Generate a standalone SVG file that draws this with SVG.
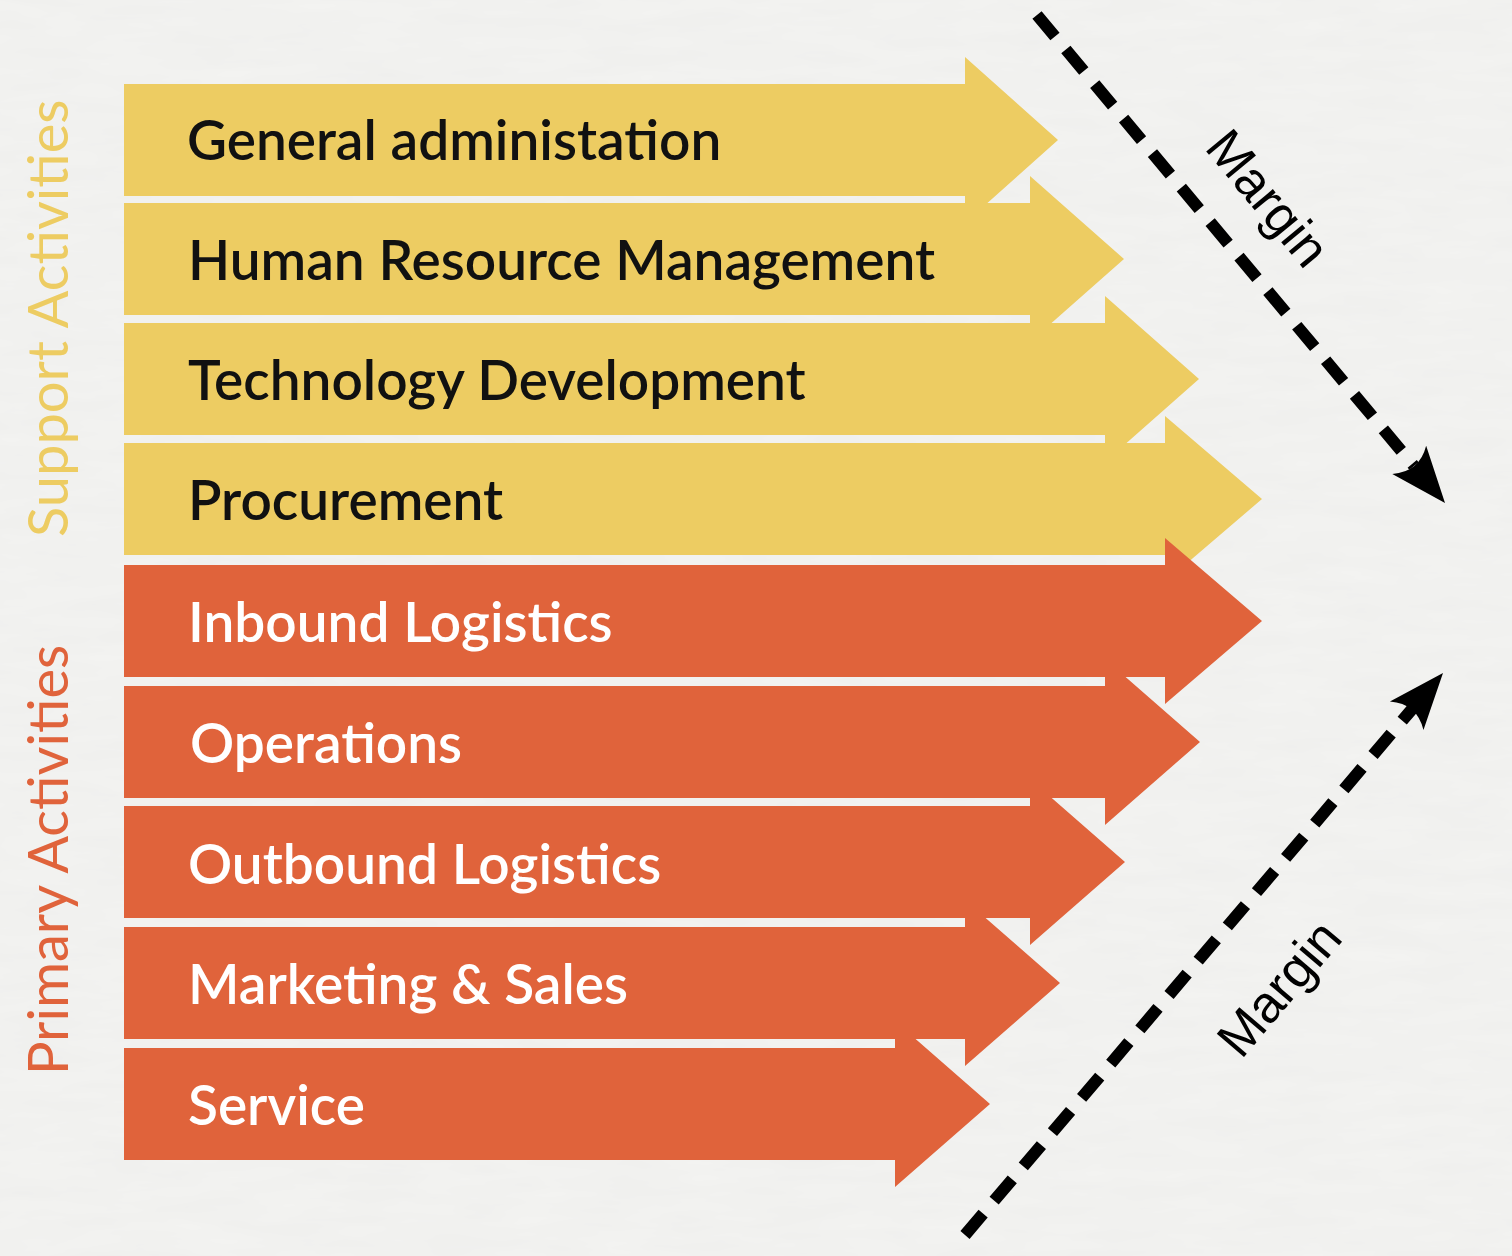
<svg xmlns="http://www.w3.org/2000/svg" width="1512" height="1256" viewBox="0 0 1512 1256">
  <defs>
    <style>
      .support { fill: #EDCC62; }
      .primary { fill: #E0633B; }
      .label { font-family: Lato, "Open Sans", sans-serif; font-size: 55px; font-weight: 600; }
      .label.dark { fill: #111111; }
      .label.light { fill: #FFFFFF; }
      .side { font-family: Lato, "Open Sans", sans-serif; font-size: 56px; font-weight: 400; }
      .dash { fill: none; stroke: #000000; stroke-width: 12; stroke-dasharray: 28 17; }
      .margin { font-family: "Liberation Sans", Arial, sans-serif; font-size: 52px; fill: #000000; text-anchor: middle; }
    </style>
    <!-- light paper grain -->
    <filter id="grain" x="0" y="0" width="100%" height="100%">
      <feTurbulence type="fractalNoise" baseFrequency="0.012 0.06" numOctaves="3" seed="7" result="n"/>
      <feColorMatrix in="n" type="matrix" values="0 0 0 0 0.55  0 0 0 0 0.55  0 0 0 0 0.55  0 0 0 0.10 -0.01"/>
    </filter>
    <!-- arrowhead for the dashed margin arrows, tip at the origin, pointing +x -->
    <path id="dhead" d="M0,0 L-56,-22 Q-40,0 -56,22 Z" fill="#000000"/>
  </defs>

  <!-- background -->
  <rect width="1512" height="1256" fill="#F3F3F1"/>
  <rect width="1512" height="1256" filter="url(#grain)"/>

  <!-- side captions -->
  <text class="side" fill="#EDCC62" transform="translate(68,537) rotate(-90)">Support Activities</text>
  <text class="side" fill="#E0633B" transform="translate(68,1075) rotate(-90)">Primary Activities</text>

  <!-- support activity arrows -->
  <g id="general-administration">
    <path class="support" d="M124,84 H965 V57 L1058,140 L965,223 V196 H124 Z"/>
    <text class="label dark" x="187" y="160">General administation</text>
  </g>
  <g id="human-resource-management">
    <path class="support" d="M124,203 H1030 V176 L1124,259 L1030,342 V315 H124 Z"/>
    <text class="label dark" x="188" y="280">Human Resource Management</text>
  </g>
  <g id="technology-development">
    <path class="support" d="M124,323 H1105 V296 L1199,379 L1105,462 V435 H124 Z"/>
    <text class="label dark" x="188" y="400">Technology Development</text>
  </g>
  <g id="procurement">
    <path class="support" d="M124,443 H1165 V416 L1262,499 L1165,582 V555 H124 Z"/>
    <text class="label dark" x="188" y="520">Procurement</text>
  </g>

  <!-- primary activity arrows, drawn bottom-up so upper arrows overlap lower ones -->
  <g id="service">
    <path class="primary" d="M124,1048 H895 V1021 L990,1104 L895,1187 V1160 H124 Z"/>
    <text class="label light" x="188" y="1125">Service</text>
  </g>
  <g id="marketing-sales">
    <path class="primary" d="M124,927 H965 V900 L1060,983 L965,1066 V1039 H124 Z"/>
    <text class="label light" x="188" y="1004">Marketing &amp; Sales</text>
  </g>
  <g id="outbound-logistics">
    <path class="primary" d="M124,806 H1030 V779 L1125,862 L1030,945 V918 H124 Z"/>
    <text class="label light" x="188" y="884">Outbound Logistics</text>
  </g>
  <g id="operations">
    <path class="primary" d="M124,686 H1105 V659 L1200,742 L1105,825 V798 H124 Z"/>
    <text class="label light" x="190" y="763">Operations</text>
  </g>
  <g id="inbound-logistics">
    <path class="primary" d="M124,565 H1165 V538 L1262,621 L1165,704 V677 H124 Z"/>
    <text class="label light" x="188" y="642">Inbound Logistics</text>
  </g>

  <!-- margin connectors -->
  <g id="connectors">
    <line class="dash" x1="1037" y1="15" x2="1414" y2="466"/>
    <use href="#dhead" transform="translate(1445,503) rotate(50.3)"/>
    <line class="dash" x1="965" y1="1235" x2="1413" y2="708"/>
    <use href="#dhead" transform="translate(1443,673) rotate(-49.6)"/>
  </g>

  <!-- margin captions -->
  <text class="margin" transform="translate(1268,198) rotate(50.3)" y="18">Margin</text>
  <text class="margin" transform="translate(1279,988) rotate(-49.6)" y="18">Margin</text>
</svg>
